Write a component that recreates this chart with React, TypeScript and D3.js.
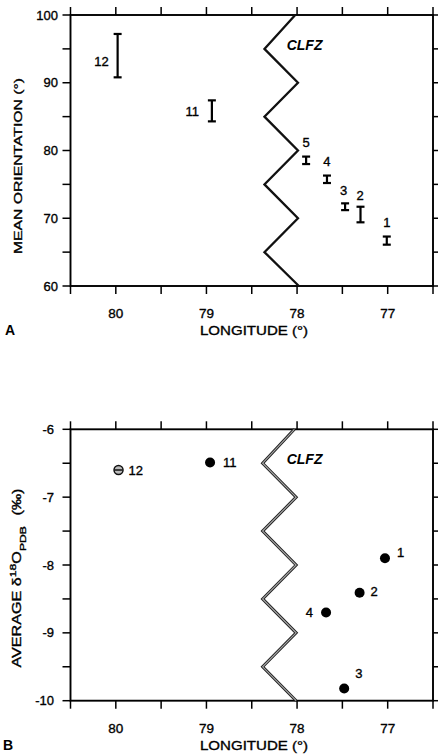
import * as d3 from "d3";
import React from "react";

// panel A: mean orientation per site (error bars)
const orientSites = ["12", "11", "5", "4", "3", "2", "1"];
const orientLon = [79.98, 78.94, 77.9, 77.67, 77.47, 77.3, 77.01];
const orientLow = [90.8, 84.3, 78.0, 75.2, 71.2, 69.4, 66.1];
const orientHigh = [97.2, 87.4, 79.1, 76.3, 72.2, 71.7, 67.3];

// panel B: average d18O per site
const isoSites = ["12", "11", "1", "2", "4", "3"];
const isoLon = [79.97, 78.96, 77.03, 77.31, 77.68, 77.48];
const isoValue = [-6.6, -6.49, -7.9, -8.41, -8.7, -9.82];

// CLFZ trace (zigzag)
const clfzTopValue = [100, 95, 90, 85, 80, 75, 70, 65, 60];
const clfzTopLon = [78.02, 78.36, 77.99, 78.36, 77.99, 78.36, 77.99, 78.36, 77.98];
const clfzBotValue = [-6, -6.5, -7, -7.5, -8, -8.5, -9, -9.5, -10];
const clfzBotLon = [78.03, 78.38, 78.01, 78.38, 78.01, 78.38, 78.01, 78.38, 78.01];

// ticks
const lonTicks = [80.5, 80, 79.5, 79, 78.5, 78, 77.5, 77, 76.5];
const lonLabels = [80, 79, 78, 77];
const orientTicks = [60, 65, 70, 75, 80, 85, 90, 95, 100];
const orientLabels = [60, 70, 80, 90, 100];
const isoTicks = [-10, -9.5, -9, -8.5, -8, -7.5, -7, -6.5, -6];
const isoLabels = [-10, -9, -8, -7, -6];

// label placement (pixels, relative to mark)
const orientLabelDx = [-9, -13, 0, 0, -1.5, -0.5, 0];
const orientLabelDy = [10, 5, -10, -10, -8, -7, -10];
const orientAnchor = ["end", "end", "middle", "middle", "middle", "middle", "middle"];
const isoLabelDx = [10, 13, 12, 11, -13, 11];
const isoLabelDy = [4.5, 4, -1, 3, 5, -10];
const isoAnchor = ["start", "start", "start", "start", "end", "start"];

const font = "'Liberation Sans', Arial, Helvetica, sans-serif";
const ink = { fill: "#000", stroke: "#000", strokeWidth: 0.35 };
const left = 70.5;
const right = 433;

const x = d3.scaleLinear().domain([80.5, 76.5]).range([left, right]);
const yTop = d3.scaleLinear().domain([60, 100]).range([286, 15]);
const yBot = d3.scaleLinear().domain([-10, -6]).range([700.7, 429.3]);

const Frame = ({ y, yTicks, yLabels, labelRight }) => {
  const [y0, y1] = y.range();
  return (
    <g fontFamily={font}>
      <rect x={left} y={y1} width={right - left} height={y0 - y1} fill="none" stroke="#000" strokeWidth={1.9} />
      {lonTicks.map((t) => (
        <g key={"x" + t}>
          <line x1={x(t)} x2={x(t)} y1={y0} y2={y0 + 8} stroke="#000" strokeWidth={1.5} />
          <line x1={x(t)} x2={x(t)} y1={y1} y2={y1 - 8} stroke="#000" strokeWidth={1.5} />
        </g>
      ))}
      {lonLabels.map((t) => (
        <text key={"xl" + t} x={x(t)} y={y0 + 32} fontSize={13.5} textAnchor="middle" {...ink}>
          {t}
        </text>
      ))}
      {yTicks.map((t) => (
        <g key={"y" + t}>
          <line x1={left} x2={left - 8} y1={y(t)} y2={y(t)} stroke="#000" strokeWidth={1.5} />
          <line x1={right} x2={right + 5} y1={y(t)} y2={y(t)} stroke="#000" strokeWidth={1.5} />
        </g>
      ))}
      {yLabels.map((t) => (
        <text key={"yl" + t} x={labelRight} y={y(t)} fontSize={13} textAnchor="end" dominantBaseline="central" {...ink}>
          {t}
        </text>
      ))}
      <text
        x={254}
        y={y0 + 49}
        fontSize={13}
        textAnchor="middle"
        textLength={108}
        lengthAdjust="spacingAndGlyphs"
        {...ink}
      >
        LONGITUDE (°)
      </text>
      <text
        x={(x(78) + x(77.9)) / 2 + 3}
        y={y1 + 35}
        fontSize={14}
        fontWeight="bold"
        fontStyle="italic"
        textAnchor="middle"
        fill="#000"
      >
        CLFZ
      </text>
    </g>
  );
};

const zigzag = d3
  .line()
  .x((d) => x(d[0]))
  .y((d) => d[1]);

export default function App() {
  const topPath = zigzag(clfzTopLon.map((l, i) => [l, yTop(clfzTopValue[i])]));
  const botPath = zigzag(clfzBotLon.map((l, i) => [l, yBot(clfzBotValue[i])]));

  return (
    <svg
      width={439}
      height={755}
      viewBox="0 0 439 755"
      style={{ position: "absolute", left: 0, top: 0, background: "#fff" }}
    >
      <rect width={439} height={755} fill="#fff" />

      {/* Panel A */}
      <Frame y={yTop} yTicks={orientTicks} yLabels={orientLabels} labelRight={58} />
      <path d={topPath} fill="none" stroke="#111" strokeWidth={2.3} strokeLinejoin="miter" />
      {orientSites.map((s, i) => {
        const cx = x(orientLon[i]);
        const yh = yTop(orientHigh[i]);
        const yl = yTop(orientLow[i]);
        return (
          <g key={"o" + s}>
            <g stroke="#000" strokeWidth={2.2}>
              <line x1={cx} x2={cx} y1={yh} y2={yl} />
              <line x1={cx - 4} x2={cx + 4} y1={yh} y2={yh} />
              <line x1={cx - 4} x2={cx + 4} y1={yl} y2={yl} />
            </g>
            <text
              x={cx + orientLabelDx[i]}
              y={(orientAnchor[i] === "middle" ? yh : (yh + yl) / 2) + orientLabelDy[i]}
              fontSize={13}
              fontFamily={font}
              textAnchor={orientAnchor[i]}
              {...ink}
            >
              {s}
            </text>
          </g>
        );
      })}
      <text
        transform="translate(21.5,166) rotate(-90)"
        fontFamily={font}
        fontSize={11.5}
        textAnchor="middle"
        textLength={176}
        lengthAdjust="spacingAndGlyphs"
        {...ink}
      >
        MEAN ORIENTATION (°)
      </text>
      <text x={5} y={335} fontFamily={font} fontSize={14} fontWeight="bold">
        A
      </text>

      {/* Panel B */}
      <Frame y={yBot} yTicks={isoTicks} yLabels={isoLabels} labelRight={54} />
      <path d={botPath} fill="none" stroke="#222" strokeWidth={3} />
      <path d={botPath} fill="none" stroke="#aaa" strokeWidth={1.1} />
      {isoSites.map((s, i) => {
        const cx = x(isoLon[i]);
        const cy = yBot(isoValue[i]);
        return (
          <g key={"i" + s}>
            {s === "12" ? (
              <g>
                <circle cx={cx} cy={cy} r={4.5} fill="#bbb" stroke="#111" strokeWidth={1.5} />
                <line x1={cx - 4} x2={cx + 4} y1={cy} y2={cy} stroke="#111" strokeWidth={1.5} />
              </g>
            ) : (
              <circle cx={cx} cy={cy} r={5} fill="#000" />
            )}
            <text
              x={cx + isoLabelDx[i]}
              y={cy + isoLabelDy[i]}
              fontSize={13}
              fontFamily={font}
              textAnchor={isoAnchor[i]}
              {...ink}
            >
              {s}
            </text>
          </g>
        );
      })}
      <text
        transform="translate(21,578) rotate(-90)"
        fontFamily={font}
        fontSize={12}
        textAnchor="middle"
        textLength={179}
        lengthAdjust="spacingAndGlyphs"
        {...ink}
      >
        AVERAGE δ
        <tspan fontSize={9} baselineShift="super">18</tspan>
        <tspan>O</tspan>
        <tspan fontSize={9} baselineShift="sub">PDB</tspan>
        <tspan dx={8}>(‰)</tspan>
      </text>
      <text x={3} y={750} fontFamily={font} fontSize={14} fontWeight="bold">
        B
      </text>
    </svg>
  );
}
